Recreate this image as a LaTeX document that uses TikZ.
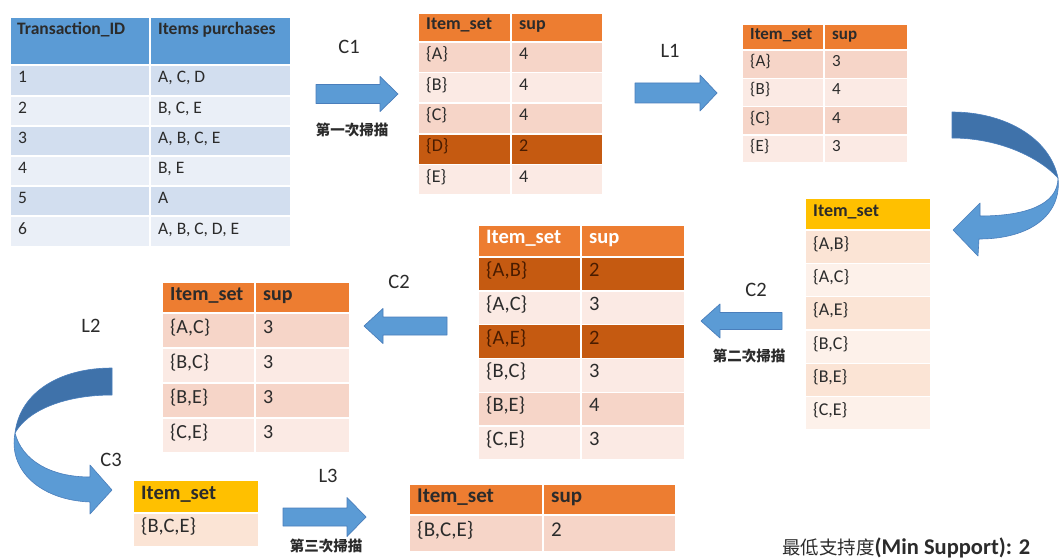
\documentclass[tikz,border=0pt]{standalone}
\usepackage{fontspec}
\setmainfont{Carlito}
\newfontfamily\cjk{Noto Sans CJK TC}
\usetikzlibrary{calc}
\definecolor{hblue}{HTML}{5B9BD5}
\definecolor{rblueA}{HTML}{D2DEEF}
\definecolor{rblueB}{HTML}{EAEFF7}
\definecolor{horange}{HTML}{ED7D31}
\definecolor{rorA}{HTML}{F6D5C8}
\definecolor{rorB}{HTML}{FBEAE4}
\definecolor{dorange}{HTML}{C55A11}
\definecolor{dtext}{HTML}{4A1C00}
\definecolor{hyellow}{HTML}{FFC000}
\definecolor{ryA}{HTML}{FBE4D5}
\definecolor{ryB}{HTML}{FDF1EA}
\definecolor{arrblue}{HTML}{5B9BD5}
\definecolor{arrdark}{HTML}{3F72AA}
\definecolor{arredge}{HTML}{4A7EBB}
\definecolor{txt}{HTML}{2B2B2B}
\tikzset{
  celltext/.style={inner sep=0pt, anchor=west, text height=0.72em, text depth=0.22em, text=txt},
  hdrtext/.style={celltext, execute at begin node={\bfseries}},
  blockarrow/.style={fill=arrblue, draw=arredge, line width=0.7pt, line join=round},
  lbl/.style={inner sep=0pt, text=txt, font=\fontsize{20.5}{22}\selectfont},
  scanlbl/.style={inner sep=0pt, text=txt, font=\cjk\bfseries\fontsize{14.5}{16}\selectfont}
}
% name, x1, y1, x2, y2, fill colour, text style, text
\newcommand{\cellbox}[8]{%
  \path[fill=#6, draw=white, line width=1.5pt] (#2,#3) rectangle (#4,#5);
  \node[#7] (#1) at ({#2+8},{(#3+#5)/2}) {#8};}
% xs, xb, xt, yc, shaft half, head half
\newcommand{\blockarrow}[6]{%
  \path[blockarrow] (#1,{#4-#5}) -- (#2,{#4-#5}) -- (#2,{#4-#6}) -- (#3,#4) -- (#2,{#4+#6}) -- (#2,{#4+#5}) -- (#1,{#4+#5}) -- cycle;}
\begin{document}
\begin{tikzpicture}[x=1pt,y=-1pt]
\path[fill=white] (0,0) rectangle (1059,559);
\useasboundingbox (0,0) rectangle (1059,559);

% ---------- Transaction table ----------
\begin{scope}[font=\fontsize{17.5}{19}\selectfont]
\path[fill=hblue, draw=white, line width=1.5pt] (10,17) rectangle (150,65);
\path[fill=hblue, draw=white, line width=1.5pt] (150,17) rectangle (291,65);
\node[hdrtext] (th1) at (17,32) {Transaction\_ID};
\node[hdrtext] (th2) at (158,32) {Items purchases};
\cellbox{t1a}{10}{65}{150}{96}{rblueA}{celltext}{1}
\cellbox{t1b}{150}{65}{291}{96}{rblueA}{celltext}{A, C, D}
\cellbox{t2a}{10}{96}{150}{126}{rblueB}{celltext}{2}
\cellbox{t2b}{150}{96}{291}{126}{rblueB}{celltext}{B, C, E}
\cellbox{t3a}{10}{126}{150}{156}{rblueA}{celltext}{3}
\cellbox{t3b}{150}{126}{291}{156}{rblueA}{celltext}{A, B, C, E}
\cellbox{t4a}{10}{156}{150}{186}{rblueB}{celltext}{4}
\cellbox{t4b}{150}{156}{291}{186}{rblueB}{celltext}{B, E}
\cellbox{t5a}{10}{186}{150}{216}{rblueA}{celltext}{5}
\cellbox{t5b}{150}{186}{291}{216}{rblueA}{celltext}{A}
\cellbox{t6a}{10}{216}{150}{247}{rblueB}{celltext}{6}
\cellbox{t6b}{150}{216}{291}{247}{rblueB}{celltext}{A, B, C, D, E}
\end{scope}

% ---------- C1 table ----------
\begin{scope}[font=\fontsize{18}{20}\selectfont]
\cellbox{c1h1}{418}{13}{511}{42}{horange}{hdrtext}{Item\_set}
\cellbox{c1h2}{511}{13}{603}{42}{horange}{hdrtext}{sup}
\cellbox{c1aa}{418}{42}{511}{72.6}{rorA}{celltext}{\{A\}}
\cellbox{c1ab}{511}{42}{603}{72.6}{rorA}{celltext}{4}
\cellbox{c1ba}{418}{72.6}{511}{103.2}{rorB}{celltext}{\{B\}}
\cellbox{c1bb}{511}{72.6}{603}{103.2}{rorB}{celltext}{4}
\cellbox{c1ca}{418}{103.2}{511}{133.8}{rorA}{celltext}{\{C\}}
\cellbox{c1cb}{511}{103.2}{603}{133.8}{rorA}{celltext}{4}
\cellbox{c1da}{418}{133.8}{511}{164.4}{dorange}{celltext,text=dtext}{\{D\}}
\cellbox{c1db}{511}{133.8}{603}{164.4}{dorange}{celltext,text=dtext}{2}
\cellbox{c1ea}{418}{164.4}{511}{195}{rorB}{celltext}{\{E\}}
\cellbox{c1eb}{511}{164.4}{603}{195}{rorB}{celltext}{4}
\end{scope}

% ---------- L1 table ----------
\begin{scope}[font=\fontsize{17}{19}\selectfont]
\cellbox{l1h1}{742}{24}{824}{50}{horange}{hdrtext}{Item\_set}
\cellbox{l1h2}{824}{24}{908}{50}{horange}{hdrtext}{sup}
\cellbox{l1aa}{742}{50}{824}{78.3}{rorA}{celltext}{\{A\}}
\cellbox{l1ab}{824}{50}{908}{78.3}{rorA}{celltext}{3}
\cellbox{l1ba}{742}{78.3}{824}{106.6}{rorB}{celltext}{\{B\}}
\cellbox{l1bb}{824}{78.3}{908}{106.6}{rorB}{celltext}{4}
\cellbox{l1ca}{742}{106.6}{824}{134.9}{rorA}{celltext}{\{C\}}
\cellbox{l1cb}{824}{106.6}{908}{134.9}{rorA}{celltext}{4}
\cellbox{l1ea}{742}{134.9}{824}{163}{rorB}{celltext}{\{E\}}
\cellbox{l1eb}{824}{134.9}{908}{163}{rorB}{celltext}{3}
\end{scope}

% ---------- Yellow candidate table (right) ----------
\begin{scope}[font=\fontsize{18}{20}\selectfont]
\cellbox{yh}{805}{198}{931}{230}{hyellow}{hdrtext}{Item\_set}
\cellbox{y1}{805}{230}{931}{263.3}{ryA}{celltext}{\{A,B\}}
\cellbox{y2}{805}{263.3}{931}{296.7}{ryB}{celltext}{\{A,C\}}
\cellbox{y3}{805}{296.7}{931}{330}{ryA}{celltext}{\{A,E\}}
\cellbox{y4}{805}{330}{931}{363.3}{ryB}{celltext}{\{B,C\}}
\cellbox{y5}{805}{363.3}{931}{396.7}{ryA}{celltext}{\{B,E\}}
\cellbox{y6}{805}{396.7}{931}{430}{ryB}{celltext}{\{C,E\}}
\end{scope}

% ---------- C2 table (middle) ----------
\begin{scope}[font=\fontsize{20.5}{22}\selectfont]
\cellbox{c2h1}{478}{225}{581}{257}{horange}{hdrtext,text=white}{Item\_set}
\cellbox{c2h2}{581}{225}{685}{257}{horange}{hdrtext,text=white}{sup}
\cellbox{c2aa}{478}{257}{581}{290.8}{dorange}{celltext,text=dtext}{\{A,B\}}
\cellbox{c2ab}{581}{257}{685}{290.8}{dorange}{celltext,text=dtext}{2}
\cellbox{c2ba}{478}{290.8}{581}{324.7}{rorB}{celltext}{\{A,C\}}
\cellbox{c2bb}{581}{290.8}{685}{324.7}{rorB}{celltext}{3}
\cellbox{c2ca}{478}{324.7}{581}{358.5}{dorange}{celltext,text=dtext}{\{A,E\}}
\cellbox{c2cb}{581}{324.7}{685}{358.5}{dorange}{celltext,text=dtext}{2}
\cellbox{c2da}{478}{358.5}{581}{392.3}{rorB}{celltext}{\{B,C\}}
\cellbox{c2db}{581}{358.5}{685}{392.3}{rorB}{celltext}{3}
\cellbox{c2ea}{478}{392.3}{581}{426.2}{rorA}{celltext}{\{B,E\}}
\cellbox{c2eb}{581}{392.3}{685}{426.2}{rorA}{celltext}{4}
\cellbox{c2fa}{478}{426.2}{581}{460}{rorB}{celltext}{\{C,E\}}
\cellbox{c2fb}{581}{426.2}{685}{460}{rorB}{celltext}{3}
\end{scope}

% ---------- L2 table ----------
\begin{scope}[font=\fontsize{20}{22}\selectfont]
\cellbox{l2h1}{162}{282}{255}{313}{horange}{hdrtext}{Item\_set}
\cellbox{l2h2}{255}{282}{350}{313}{horange}{hdrtext}{sup}
\cellbox{l2aa}{162}{313}{255}{348}{rorA}{celltext}{\{A,C\}}
\cellbox{l2ab}{255}{313}{350}{348}{rorA}{celltext}{3}
\cellbox{l2ba}{162}{348}{255}{383}{rorB}{celltext}{\{B,C\}}
\cellbox{l2bb}{255}{348}{350}{383}{rorB}{celltext}{3}
\cellbox{l2ca}{162}{383}{255}{418}{rorA}{celltext}{\{B,E\}}
\cellbox{l2cb}{255}{383}{350}{418}{rorA}{celltext}{3}
\cellbox{l2da}{162}{418}{255}{453}{rorB}{celltext}{\{C,E\}}
\cellbox{l2db}{255}{418}{350}{453}{rorB}{celltext}{3}
\end{scope}

% ---------- C3 table ----------
\begin{scope}[font=\fontsize{20.5}{22}\selectfont]
\cellbox{c3h}{133}{480}{259}{513}{hyellow}{hdrtext}{Item\_set}
\cellbox{c3a}{133}{513}{259}{547}{ryA}{celltext}{\{B,C,E\}}
\end{scope}

% ---------- L3 table ----------
\begin{scope}[font=\fontsize{21}{23}\selectfont]
\cellbox{l3h1}{409}{484}{543}{515}{horange}{hdrtext}{Item\_set}
\cellbox{l3h2}{543}{484}{676}{515}{horange}{hdrtext}{sup}
\cellbox{l3aa}{409}{515}{543}{552}{rorA}{celltext}{\{B,C,E\}}
\cellbox{l3ab}{543}{515}{676}{552}{rorA}{celltext}{2}
\end{scope}

% ---------- straight block arrows ----------
\blockarrow{316}{380}{398}{94}{9.5}{17.5}
\blockarrow{635}{700}{717}{93}{10}{18}
\blockarrow{782}{720}{701}{321}{8.5}{17}
\blockarrow{447}{383}{364}{326}{9}{17.5}
\blockarrow{283}{347}{366}{517}{9}{19.5}

% ---------- curved arrow (right) ----------
\path[fill=arrdark, draw=arredge, line width=0.6pt, line join=round]
  (952,112) .. controls (1005,112) and (1050,138) .. (1058,178)
  .. controls (1040,158) and (1000,138) .. (952,138) -- cycle;
\path[fill=arrblue, draw=arredge, line width=0.6pt, line join=round]
  (1058,178) .. controls (1058,205) and (1025,216) .. (980,216)
  -- (980,203) -- (953,230) -- (978,256) -- (979,239)
  .. controls (1030,239) and (1062,215) .. (1058,178) -- cycle;

% ---------- curved arrow (left) ----------
\path[fill=arrdark, draw=arredge, line width=0.6pt, line join=round]
  (112,368) .. controls (60,368) and (20,392) .. (15,433)
  .. controls (28,410) and (65,395) .. (112,395) -- cycle;
\path[fill=arrblue, draw=arredge, line width=0.6pt, line join=round]
  (15,433) .. controls (22,460) and (50,477) .. (90,477)
  -- (90,465) -- (112,490) -- (90,514) -- (90,502)
  .. controls (40,500) and (8,470) .. (15,433) -- cycle;

% ---------- labels ----------
\node[lbl] (lc1) at (349,47) {C1};
\node[scanlbl] (s1) at (352,130) {第一次掃描};
\node[lbl] (ll1) at (670,51) {L1};
\node[lbl] (lc2r) at (756,290) {C2};
\node[scanlbl] (s2) at (749,356) {第二次掃描};
\node[lbl] (lc2l) at (399,282) {C2};
\node[lbl] (ll2) at (91,326) {L2};
\node[lbl] (lc3) at (111,460) {C3};
\node[lbl] (ll3) at (328,476) {L3};
\node[scanlbl] (s3) at (326,546) {第三次掃描};
\node[inner sep=0pt, anchor=west, text=txt] (minsup) at (782,548)
  {{\cjk\fontsize{18.5}{20}\selectfont 最低支持度}{\bfseries\fontsize{22.5}{24}\selectfont (Min Support): 2}};
\end{tikzpicture}
\end{document}
